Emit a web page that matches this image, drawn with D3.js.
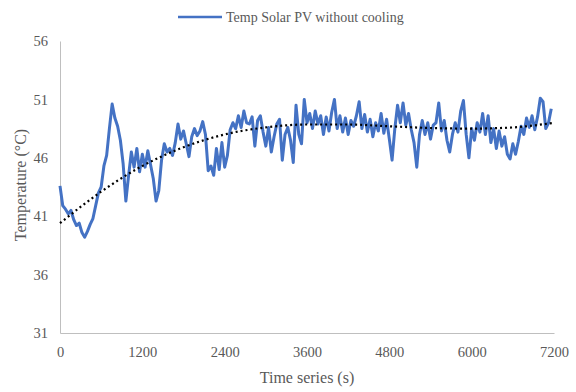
<!DOCTYPE html>
<html>
<head>
<meta charset="utf-8">
<script src="https://cdn.jsdelivr.net/npm/d3@7"></script>
<style>
  body { margin: 0; background: #fff; }
  text { font-family: "Liberation Serif", "Times New Roman", serif; fill: #595959; }
</style>
</head>
<body>
<div id="chart"></div>
<script>
const step = 40;
const tempValues = [
  43.6, 41.9, 41.6, 41.2, 41.5, 40.7, 40.2, 40.4, 39.6, 39.2,
  39.7, 40.3, 40.8, 41.9, 43.0, 43.5, 45.3, 46.2, 48.5, 50.6,
  49.4, 48.7, 47.5, 45.5, 42.3, 44.5, 46.5, 45.2, 46.8, 44.8,
  46.3, 45.2, 46.6, 45.4, 44.2, 42.3, 43.2, 45.8, 47.2, 46.5,
  46.8, 46.2, 47.3, 48.9, 47.6, 48.3, 47.2, 46.1, 47.8, 48.5,
  47.9, 48.3, 49.1, 48.0, 44.9, 45.3, 44.5, 46.8, 45.0, 47.3,
  45.2, 46.2, 48.4, 49.0, 48.5, 49.6, 48.6, 50.0, 49.0, 48.9,
  49.5, 47.0, 49.2, 49.6, 48.2, 47.0, 48.6, 46.5, 47.8, 48.9,
  49.3, 45.8, 48.0, 48.6, 47.5, 45.6, 50.5, 48.0, 47.2, 51.0,
  49.0, 49.8, 48.5, 50.0, 48.9, 49.6, 48.0, 49.5, 48.3, 49.9,
  51.0, 48.5, 49.6, 48.2, 49.4, 48.0, 49.2, 48.7, 49.6, 50.8,
  48.5, 49.7, 48.2, 49.3, 47.8, 49.0, 48.3, 49.8, 48.1, 49.3,
  47.6, 45.8, 48.5, 50.5, 49.0, 50.7, 48.8, 49.8, 48.4, 47.3,
  45.2, 48.0, 49.2, 48.0, 49.0, 47.6, 48.8, 49.0, 50.7, 48.3,
  49.2, 47.5, 46.5, 48.0, 49.0, 48.2, 50.0, 50.9, 48.0, 46.0,
  48.5, 47.5, 49.0, 48.2, 49.8, 48.0, 49.6, 47.3, 48.5, 46.8,
  48.3, 47.0, 47.8, 46.3, 45.9, 47.2, 46.3, 47.4, 48.7, 48.0,
  49.4, 48.6, 49.6, 48.4, 49.5, 51.1, 50.8, 48.5, 49.0, 50.2
];
const tempTimes = tempValues.map((v, i) => i * step);

// dotted trend line
const trendTimes = [0, 600, 1200, 1800, 2400, 3000, 3600, 4200, 4800, 5400, 6000, 6600, 7200];
const trendValues = [40.4, 43.1, 45.3, 46.9, 48.0, 48.6, 48.85, 48.85, 48.7, 48.55, 48.5, 48.6, 49.0];

const xTicks = [0, 1200, 2400, 3600, 4800, 6000, 7200];
const yTicks = [31, 36, 41, 46, 51, 56];
const seriesName = "Temp Solar PV without cooling";

const width = 576, height = 392;
const margin = {top: 41, right: 22, bottom: 59, left: 60};

const svg = d3.select('#chart')
  .append('svg')
  .attr('width', width)
  .attr('height', height);

const x = d3.scaleLinear().domain([0, 7200]).range([margin.left, width - margin.right]);
const y = d3.scaleLinear().domain([31, 56]).range([height - margin.bottom, margin.top]);

// axes
const xAxis = svg.append('g')
  .attr('transform', 'translate(0,' + (height - margin.bottom) + ')')
  .call(d3.axisBottom(x).tickValues(xTicks).tickSize(0).tickPadding(14).tickFormat(d3.format('d')));
const yAxis = svg.append('g')
  .attr('transform', 'translate(' + margin.left + ',0)')
  .call(d3.axisLeft(y).tickValues(yTicks).tickSize(0).tickPadding(12));

[xAxis, yAxis].forEach(a => {
  a.select('.domain').attr('stroke', '#bfbfbf').attr('stroke-width', 1);
  a.selectAll('text')
    .style('font-family', '"Liberation Serif", serif')
    .style('font-size', '14.5px')
    .attr('fill', '#595959');
});

// series
const line = d3.line()
  .x((d, i) => x(tempTimes[i]))
  .y(d => y(d));

svg.append('path')
  .datum(tempValues)
  .attr('fill', 'none')
  .attr('stroke', '#4472c4')
  .attr('stroke-width', 3)
  .attr('stroke-linejoin', 'round')
  .attr('d', line);

const trend = d3.line()
  .curve(d3.curveMonotoneX)
  .x((d, i) => x(trendTimes[i]))
  .y(d => y(d));

svg.append('path')
  .datum(trendValues)
  .attr('fill', 'none')
  .attr('stroke', '#000')
  .attr('stroke-width', 2.2)
  .attr('stroke-dasharray', '2,3')
  .attr('d', trend);

// axis titles
svg.append('text')
  .attr('x', (margin.left + width - margin.right) / 2)
  .attr('y', 383)
  .attr('text-anchor', 'middle')
  .style('font-size', '16px')
  .text('Time series (s)');

svg.append('text')
  .attr('transform', 'translate(26,' + 185 + ') rotate(-90)')
  .attr('text-anchor', 'middle')
  .style('font-size', '16px')
  .text('Temperature (°C)');

// legend
const legend = svg.append('g');
legend.append('line')
  .attr('x1', 178).attr('x2', 222)
  .attr('y1', 17).attr('y2', 17)
  .attr('stroke', '#4472c4')
  .attr('stroke-width', 2.5);
legend.append('text')
  .attr('x', 226)
  .attr('y', 22)
  .style('font-size', '14px')
  .text(seriesName);
</script>
</body>
</html>
